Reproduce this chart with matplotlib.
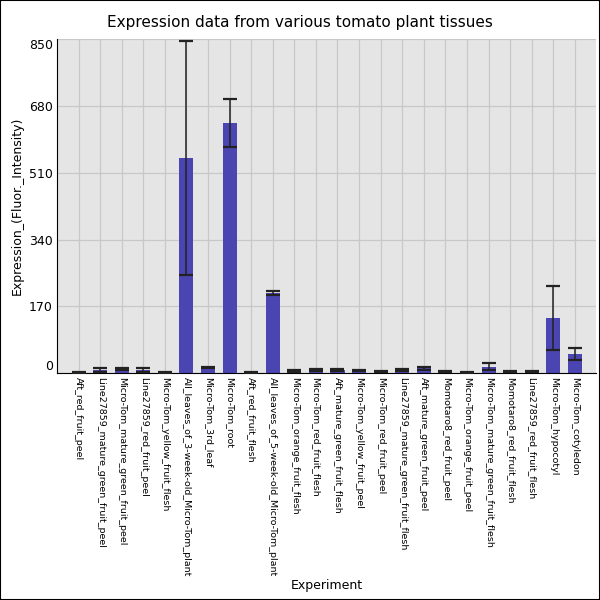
import matplotlib
matplotlib.use("Agg")
import matplotlib.pyplot as plt
import numpy as np

experiments = [
    "Aft_red_fruit_peel",
    "Line27859_mature_green_fruit_peel",
    "Micro-Tom_mature_green_fruit_peel",
    "Line27859_red_fruit_peel",
    "Micro-Tom_yellow_fruit_flesh",
    "All_leaves_of_3-week-old_Micro-Tom_plant",
    "Micro-Tom_3rd_leaf",
    "Micro-Tom_root",
    "Aft_red_fruit_flesh",
    "All_leaves_of_5-week-old_Micro-Tom_plant",
    "Micro-Tom_orange_fruit_flesh",
    "Micro-Tom_red_fruit_flesh",
    "Aft_mature_green_fruit_flesh",
    "Micro-Tom_yellow_fruit_peel",
    "Micro-Tom_red_fruit_peel",
    "Line27859_mature_green_fruit_flesh",
    "Aft_mature_green_fruit_peel",
    "Momotaro8_red_fruit_peel",
    "Micro-Tom_orange_fruit_peel",
    "Micro-Tom_mature_green_fruit_flesh",
    "Momotaro8_red_fruit_flesh",
    "Line27859_red_fruit_flesh",
    "Micro-Tom_hypocotyl",
    "Micro-Tom_cotyledon",
]
values = [1, 8, 10, 8, 2, 548, 14, 637, 2, 204, 5, 7, 8, 6, 4, 8, 12, 4, 2, 17, 4, 4, 140, 49]
errors = [1, 4, 3, 4, 1, 297, 2, 61, 1, 4.5, 2, 2.5, 3, 1.5, 1, 3.5, 4, 1, 1, 10, 1, 1.5, 81, 16]
yticks = [0, 170, 340, 510, 680, 850]

fig = plt.figure(figsize=(6, 6), dpi=100)
ax = fig.add_axes([0.095, 0.378, 0.899, 0.557])
ax.set_facecolor("#e5e5e5")
x = np.arange(len(experiments))
ax.set_axisbelow(True)
ax.grid(True, color="#c8c8c8", linewidth=0.9)
ax.bar(x, values, width=0.65, color="#4b45b2", zorder=2)
ax.errorbar(x, values, yerr=errors, fmt="none", ecolor="#222222", elinewidth=1.1,
            capsize=5, capthick=1.6, zorder=3)
ax.set_xlim(-1, len(experiments))
ax.set_ylim(0, 850)
ax.set_yticks(yticks)
ax.set_yticklabels([str(t) for t in yticks], fontsize=9)
labs = ax.get_yticklabels()
labs[0].set_verticalalignment("bottom")
labs[-1].set_verticalalignment("top")
ax.set_xticks(x)
ax.set_xticklabels(experiments, rotation=-90, fontsize=6.8, ha="center", va="top")
ax.tick_params(axis="both", length=0, pad=3)
for s in ["top", "right"]:
    ax.spines[s].set_visible(False)
ax.spines["left"].set_color("black")
ax.spines["bottom"].set_color("black")
ax.set_ylabel("Expression_(Fluor._Intensity)", fontsize=9)
ax.set_xlabel("Experiment", fontsize=9, labelpad=6)
ax.xaxis.set_label_coords(0.5, -0.615)
fig.suptitle("Expression data from various tomato plant tissues", fontsize=11, y=0.975)
fig.patches.append(plt.Rectangle((0, 0), 1, 1, transform=fig.transFigure, fill=False,
                                 edgecolor="black", linewidth=1.5))
fig.savefig("out.png", dpi=100)
